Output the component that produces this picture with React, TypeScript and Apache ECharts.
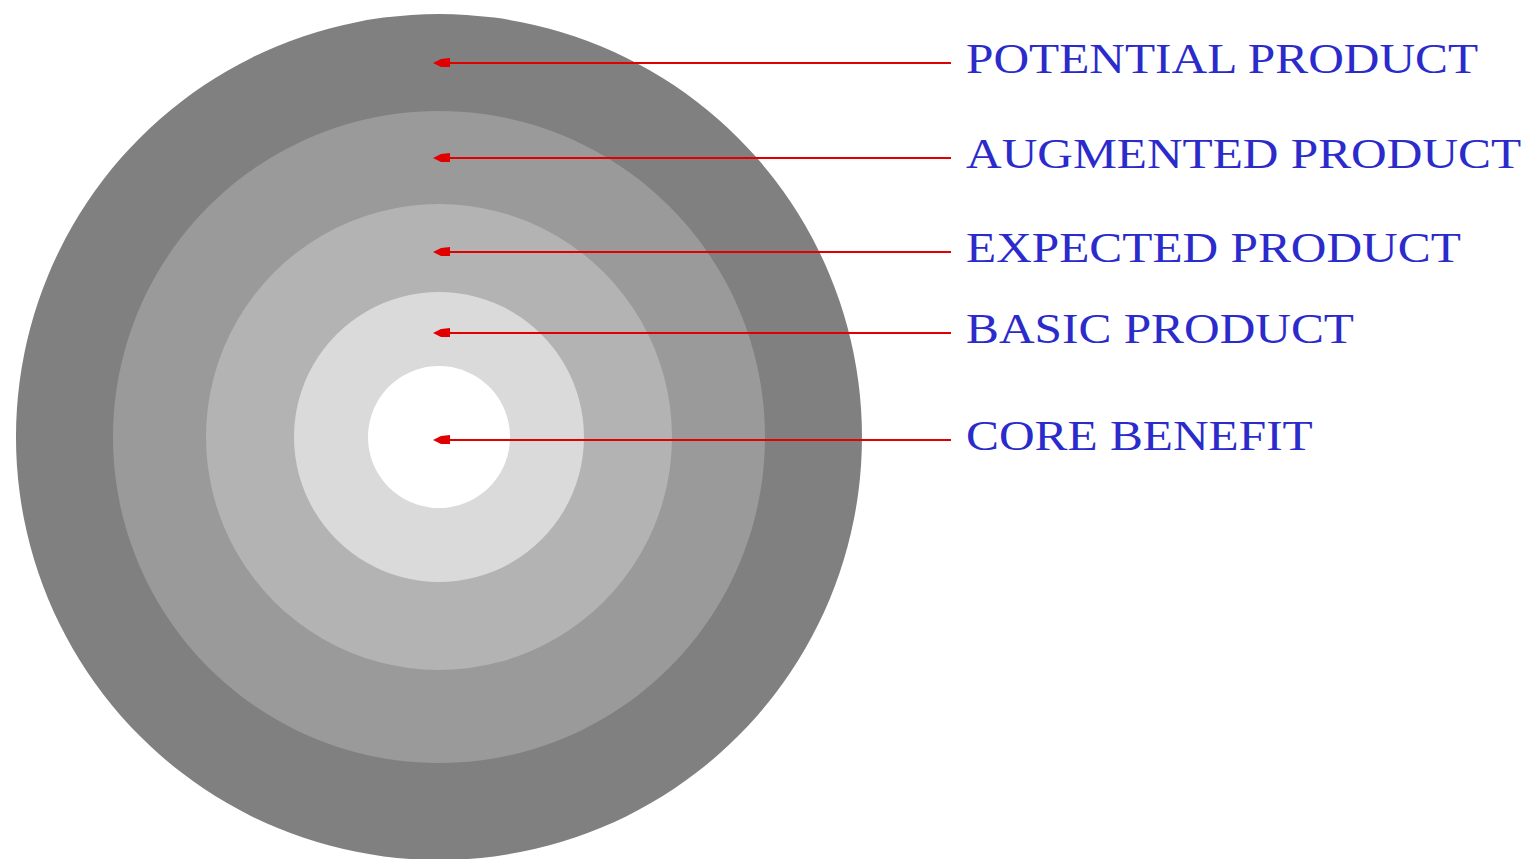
import React, { useEffect, useRef } from "react";
import * as echarts from "echarts";

// Layers from the core outward
const layers = ["CORE BENEFIT", "BASIC PRODUCT", "EXPECTED PRODUCT", "AUGMENTED PRODUCT", "POTENTIAL PRODUCT"];
// Outer radius of each layer (px)
const radii = [71, 145, 233, 326, 423];
const shades = ["#ffffff", "#dadada", "#b3b3b3", "#9a9a9a", "#808080"];

const CX = 439;
const CY = 437;
const LINE_START = 433;
const LINE_END = 951;
const LABEL_X = 966;

export default function App() {
  const ref = useRef<HTMLDivElement>(null);
  useEffect(() => {
    if (!ref.current) return;
    const chart = echarts.init(ref.current, undefined, { renderer: "svg" });

    const series: any[] = [];
    for (let i = layers.length - 1; i >= 0; i--) {
      series.push({
        type: "pie",
        name: layers[i],
        center: [CX, CY],
        radius: [0, radii[i]],
        silent: true,
        label: { show: false },
        labelLine: { show: false },
        emphasis: { disabled: true },
        itemStyle: { color: shades[i], borderWidth: 0 },
        data: [{ name: layers[i], value: 1 }],
        z: layers.length - i,
      });
    }

    const graphics: any[] = [];
    layers.forEach((name, i) => {
      const inner = i === 0 ? 0 : radii[i - 1];
      const y = i === 0 ? CY + 3 : Math.round(CY - (radii[i] + inner) / 2) + (i <= 2 ? 4 : 0);
      graphics.push({
        type: "line",
        z: 100,
        shape: { x1: LINE_START + 6, y1: y, x2: LINE_END, y2: y },
        style: { stroke: "#e00000", lineWidth: 2 },
      });
      graphics.push({
        type: "polygon",
        z: 101,
        shape: {
          points: [
            [LINE_START, y],
            [LINE_START + 8, y - 4],
            [LINE_START + 17, y - 5],
            [LINE_START + 17, y + 4],
            [LINE_START + 8, y + 4],
          ],
        },
        style: { fill: "#e00000" },
      });
      graphics.push({
        type: "text",
        z: 102,
        x: LABEL_X,
        y: y - 4,
        scaleX: 1.175,
        style: {
          text: name,
          fill: "#2b2bcc",
          font: "42px 'Liberation Serif', serif",
          verticalAlign: "middle",
          align: "left",
        },
      });
    });

    chart.setOption({
      animation: false,
      backgroundColor: "#ffffff",
      series,
      graphic: graphics,
    });
    return () => chart.dispose();
  }, []);
  return (
    <div
      ref={ref}
      style={{ position: "fixed", left: 0, top: 0, width: 1524, height: 859 }}
    />
  );
}
